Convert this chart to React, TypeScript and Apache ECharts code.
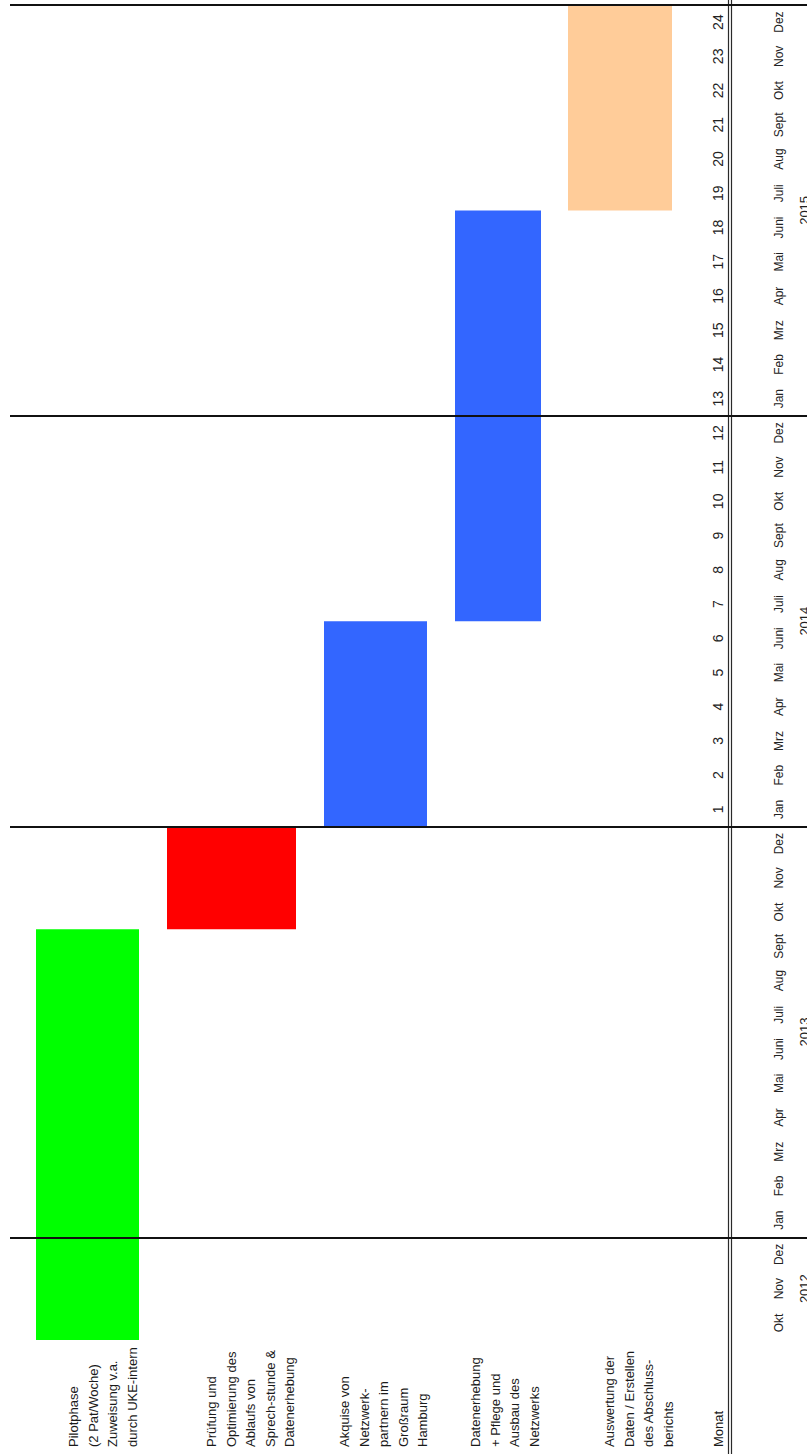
import React, { useEffect, useRef } from 'react';
import * as echarts from 'echarts';

// Work packages of the project plan (row labels, one line per "\n")
const TASKS = [
  'Pilotphase\n(2 Pat/Woche)\nZuweisung v.a.\ndurch UKE-intern',
  'Prüfung und\nOptimierung des\nAblaufs von\nSprech-stunde &\nDatenerhebung',
  'Akquise von\nNetzwerk-\npartnern im\nGroßraum\nHamburg',
  'Datenerhebung\n+ Pflege und\nAusbau des\nNetzwerks',
  'Auswertung der\nDaten / Erstellen\ndes Abschluss-\nberichts',
];
const ROW_HEADER = 'Monat';

// First and last month (inclusive) of each work package
const TASK_START = ['Okt 2012', 'Okt 2013', 'Jan 2014', 'Juli 2014', 'Juli 2015'];
const TASK_END = ['Sept 2013', 'Dez 2013', 'Juni 2014', 'Juni 2015', 'Dez 2015'];

// Calendar
const MONTH_NAMES = ['Jan', 'Feb', 'Mrz', 'Apr', 'Mai', 'Juni', 'Juli', 'Aug', 'Sept', 'Okt', 'Nov', 'Dez'];
const YEARS = ['2012', '2013', '2014', '2015'];
const FIRST_MONTH = 'Okt'; // timeline starts in October of the first year

// Project month counter, printed from January 2014 on
const PROJECT_MONTH_FROM = 'Jan 2014';
const PROJECT_MONTHS = [
  '1', '2', '3', '4', '5', '6', '7', '8', '9', '10', '11', '12',
  '13', '14', '15', '16', '17', '18', '19', '20', '21', '22', '23', '24',
];

// ---- styling / table layout ----
const TASK_COLORS = ['#00ff00', '#ff0000', '#3366ff', '#3366ff', '#ffcc99'];
const FONT = "'Liberation Sans', Arial, Helvetica, sans-serif";
const W = 807;
const H = 1454;
const GRID = { left: 10, right: 0, top: 5, bottom: 114 };
// horizontal extent of each table row's bar, in px from the grid's left edge
const ROW_BAR_SPAN = [
  [26, 129],
  [157, 286],
  [314, 417],
  [445, 531],
  [558, 662],
];
// left edge of each row's text block (page px); last entry is the "Monat" row
const ROW_TEXT_LEFT = [64, 202, 335, 466, 600, 709];
const TEXT_BASE_Y = 1447;
const LINE_H = 19.5;
const DIVIDER_X = [728.5, 731.5];

// timeline: list of "Name Year" month keys
const TIMELINE: string[] = [];
YEARS.forEach((y, yi) => {
  const from = yi === 0 ? MONTH_NAMES.indexOf(FIRST_MONTH) : 0;
  for (let m = from; m < 12; m++) TIMELINE.push(`${MONTH_NAMES[m]} ${y}`);
});
const monthIndex = (key: string) => TIMELINE.indexOf(key);
const N = TIMELINE.length;

const monthAxisLabels = TIMELINE.map((k) => k.split(' ')[0]);
const numberAxisLabels = TIMELINE.map((k, i) => {
  const j = i - monthIndex(PROJECT_MONTH_FROM);
  return j >= 0 && j < PROJECT_MONTHS.length ? PROJECT_MONTHS[j] : '';
});
// year captions sit in the middle of each year's block of months
const yearCenters: Record<string, string> = {};
YEARS.forEach((y) => {
  const idx = TIMELINE.map((k, i) => (k.endsWith(y) ? i : -1)).filter((i) => i >= 0);
  const c = (idx[0] + idx[idx.length - 1] + 1) / 2;
  yearCenters[String(c)] = y;
});
// year boundaries (start of January) and the end of the timeline
const boundaries = TIMELINE.map((k, i) => (k.startsWith('Jan ') ? i : -1)).filter((i) => i > 0);
boundaries.push(N);

const barData = TASKS.map((_, i) => [i, monthIndex(TASK_START[i]), monthIndex(TASK_END[i]) + 1]);

export default function App() {
  const ref = useRef<HTMLDivElement>(null);

  useEffect(() => {
    if (!ref.current) return;
    const chart = echarts.init(ref.current, undefined, { renderer: 'svg' });

    const labelAxisBase = {
      type: 'category' as const,
      position: 'right' as const,
      data: monthAxisLabels,
      boundaryGap: true,
      axisLine: { show: false },
      axisTick: { show: false },
      splitLine: { show: false },
    };

    const textBlocks = [...TASKS, ROW_HEADER].map((t, i) => ({
      type: 'text',
      x: ROW_TEXT_LEFT[i],
      y: TEXT_BASE_Y,
      rotation: Math.PI / 2,
      silent: true,
      style: {
        text: t,
        fontSize: 13,
        fontFamily: FONT,
        fill: '#1a1a1a',
        lineHeight: LINE_H,
        align: 'left',
        verticalAlign: 'top',
        textAlign: 'left',
        textVerticalAlign: 'top',
      },
    }));

    const dividers = DIVIDER_X.map((x) => ({
      type: 'line',
      silent: true,
      shape: { x1: x, y1: 0, x2: x, y2: H },
      style: { stroke: '#2a2a2a', lineWidth: 1.2 },
    }));

    chart.setOption({
      animation: false,
      backgroundColor: '#ffffff',
      grid: { ...GRID, containLabel: false, outerBoundsMode: 'none' },
      xAxis: { type: 'value', min: 0, max: W - GRID.left - GRID.right, show: false },
      yAxis: [
        { type: 'value', min: 0, max: N, show: false },
        {
          ...labelAxisBase,
          offset: -28,
          axisLabel: {
            interval: 0,
            rotate: 90,
            margin: 0,
            align: 'center',
            verticalAlign: 'middle',
            fontSize: 12,
            fontFamily: FONT,
            color: '#222',
          },
        },
        {
          ...labelAxisBase,
          data: numberAxisLabels,
          offset: -89,
          axisLabel: {
            interval: 0,
            rotate: 90,
            margin: 0,
            align: 'center',
            verticalAlign: 'middle',
            fontSize: 14,
            fontFamily: FONT,
            color: '#222',
          },
        },
        {
          type: 'value',
          position: 'right',
          min: 0,
          max: N,
          interval: 0.5,
          offset: 0,
          axisLine: { show: false },
          axisTick: { show: false },
          splitLine: { show: false },
          axisLabel: {
            rotate: 90,
            margin: -3,
            align: 'center',
            verticalAlign: 'middle',
            fontSize: 13,
            fontFamily: FONT,
            color: '#222',
            showMinLabel: true,
            showMaxLabel: true,
            formatter: (v: number) => yearCenters[String(v)] || '',
          },
        },
      ],
      series: [
        {
          type: 'custom',
          xAxisIndex: 0,
          yAxisIndex: 0,
          data: barData,
          clip: false,
          renderItem: (_params: any, api: any) => {
            const row = api.value(0);
            const start = api.value(1);
            const end = api.value(2);
            const span = ROW_BAR_SPAN[row];
            const p0 = api.coord([span[0], end]);
            const p1 = api.coord([span[1], start]);
            return {
              type: 'rect',
              shape: { x: p0[0], y: p0[1], width: p1[0] - p0[0], height: p1[1] - p0[1] },
              style: { fill: TASK_COLORS[row] },
            };
          },
          markLine: {
            silent: true,
            symbol: ['none', 'none'],
            label: { show: false },
            lineStyle: { color: '#111', width: 2, type: 'solid' },
            data: boundaries.map((b) => ({ yAxis: b })),
          },
          z: 2,
        },
      ],
      graphic: [...dividers, ...textBlocks],
    });

    return () => chart.dispose();
  }, []);

  return (
    <div
      ref={ref}
      style={{ position: 'absolute', left: 0, top: 0, width: W, height: H, background: '#fff' }}
    />
  );
}
